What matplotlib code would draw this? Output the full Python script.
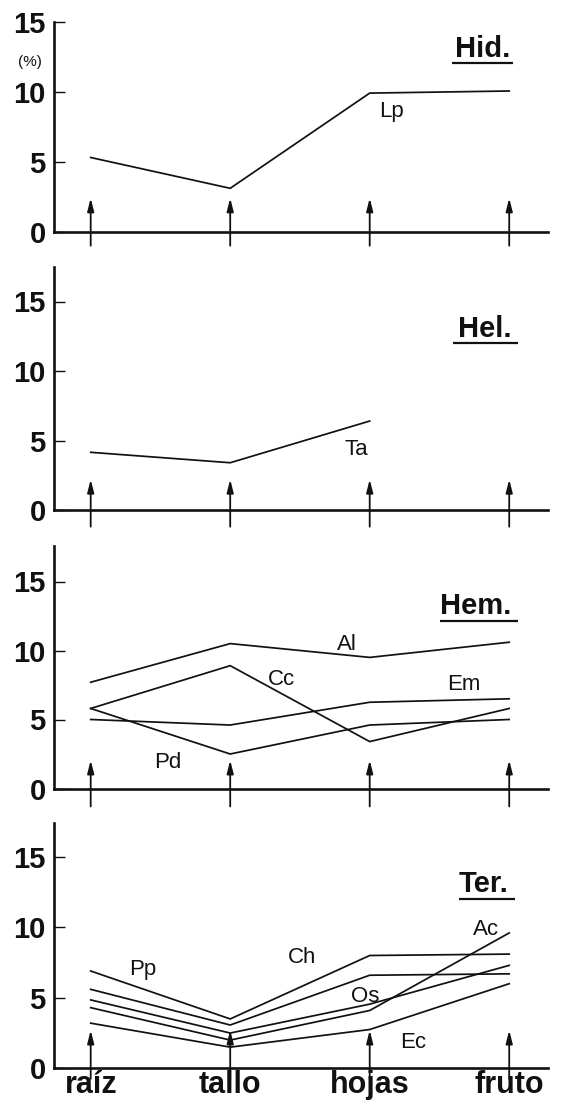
import matplotlib
matplotlib.use("Agg")
import matplotlib.pyplot as plt

plt.rcParams['font.family'] = ['Liberation Sans', 'DejaVu Sans']

# ---------------- data ----------------
categories = ['raíz', 'tallo', 'hojas', 'fruto']
y_ticks = [0, 5, 10, 15]

hid_Lp = [5.3, 3.1, 9.9, 10.05]
hel_Ta = [4.15, 3.4, 6.4]
hem_Al = [7.7, 10.5, 9.5, 10.6]
hem_Cc = [5.8, 8.9, 3.4, 5.8]
hem_Em = [5.0, 4.6, 6.25, 6.5]
hem_Pd = [5.8, 2.5, 4.6, 5.0]
ter_Pp = [6.9, 3.5, 8.0, 8.1]
ter_Ch = [5.6, 3.07, 6.6, 6.7]
ter_Os = [4.85, 2.5, 4.55, 7.3]
ter_Ac = [4.3, 2.0, 4.1, 9.6]
ter_Ec = [3.2, 1.5, 2.75, 6.0]

panels = [
    dict(title='Hid.', series=[hid_Lp]),
    dict(title='Hel.', series=[hel_Ta]),
    dict(title='Hem.', series=[hem_Al, hem_Cc, hem_Em, hem_Pd]),
    dict(title='Ter.', series=[ter_Pp, ter_Ch, ter_Os, ter_Ac, ter_Ec]),
]

# label text and positions (data coords of panel)
series_labels = [
    [('Lp', 2.07, 8.2)],
    [('Ta', 1.82, 3.96)],
    [('Al', 1.765, 10.04), ('Cc', 1.27, 7.5), ('Em', 2.555, 7.14), ('Pd', 0.455, 1.49)],
    [('Pp', 0.275, 6.6), ('Ch', 1.415, 7.47), ('Os', 1.865, 4.72), ('Ac', 2.74, 9.45), ('Ec', 2.22, 1.42)],
]

# ---------------- layout ----------------
W, H = 561, 1108
fig = plt.figure(figsize=(W / 100, H / 100), dpi=100)
fig.patch.set_facecolor('white')

left_px, right_px = 54, 548
xmin, xmax = -0.263, 3.278
zero_px = [231.7, 510.0, 788.5, 1068.3]
scale = [14.0, 13.9, 13.8, 14.1]
ymins = [-1.6, -1.6, -1.6, -1.6]
ymaxs = [15.3, 17.6, 17.6, 17.6]
spine_top = [15, 17.5, 17.6, 17.4]
arrow_rng = [(-1.0, 2.4), (-1.2, 2.2), (-1.3, 2.05), (-0.75, 2.7)]
title_pos = [(2.61, 12.5, 2.59, 3.03, 12.07),
             (2.63, 12.47, 2.60, 3.06, 12.05),
             (2.505, 12.64, 2.505, 3.06, 12.14),
             (2.64, 12.52, 2.64, 3.04, 11.98)]

lw_axis = 1.9
lw_line = 1.25
ink = '#111111'

for k, p in enumerate(panels):
    s = scale[k]
    bottom_px = zero_px[k] - ymins[k] * s
    top_px = zero_px[k] - ymaxs[k] * s
    ax = fig.add_axes([left_px / W, (H - bottom_px) / H,
                       (right_px - left_px) / W, (bottom_px - top_px) / H])
    ax.set_xlim(xmin, xmax)
    ax.set_ylim(ymins[k], ymaxs[k])
    ax.patch.set_alpha(0)

    for sp in ['top', 'right']:
        ax.spines[sp].set_visible(False)
    ax.spines['bottom'].set_position(('data', 0))
    ax.spines['bottom'].set_linewidth(lw_axis)
    ax.spines['bottom'].set_color(ink)
    ax.spines['left'].set_bounds(0, spine_top[k])
    ax.spines['left'].set_linewidth(lw_axis)
    ax.spines['left'].set_color(ink)

    ax.set_yticks(y_ticks)
    ax.set_yticklabels([str(t) for t in y_ticks], fontsize=21, fontweight='bold', color=ink)
    ax.tick_params(axis='y', direction='in', length=8, width=1.0, pad=6, colors=ink)

    x = list(range(len(categories)))
    if k == 3:
        ax.set_xticks(x)
        ax.set_xticklabels(categories, fontsize=22, fontweight='bold', color=ink)
        ax.tick_params(axis='x', length=0, pad=1.5)
    else:
        ax.set_xticks([])

    # data lines
    for ser in p['series']:
        ax.plot(x[:len(ser)], ser, color=ink, lw=lw_line, solid_joinstyle='miter')

    # arrows at each category
    lo, hi = arrow_rng[k]
    for xi in x:
        ax.annotate('', xy=(xi, hi), xytext=(xi, lo),
                    arrowprops=dict(arrowstyle='-|>,head_length=0.55,head_width=0.14',
                                    lw=1.3, color=ink, mutation_scale=14,
                                    shrinkA=0, shrinkB=0),
                    annotation_clip=False)

    # panel title, underlined
    tx, ty, ux0, ux1, uy = title_pos[k]
    ax.text(tx, ty, p['title'], fontsize=21, fontweight='bold', color=ink,
            ha='left', va='baseline')
    ax.plot([ux0, ux1], [uy, uy], color=ink, lw=1.6, solid_capstyle='butt')

    # series labels
    for (lab, lx, ly) in series_labels[k]:
        ax.text(lx, ly, lab, fontsize=16, color=ink, ha='left', va='baseline')

    if k == 0:
        ax.text(-0.435, 12.1, '(%)', fontsize=11, color=ink, ha='center', va='center',
                clip_on=False)

fig.savefig('out.png', dpi=100, facecolor='white')
